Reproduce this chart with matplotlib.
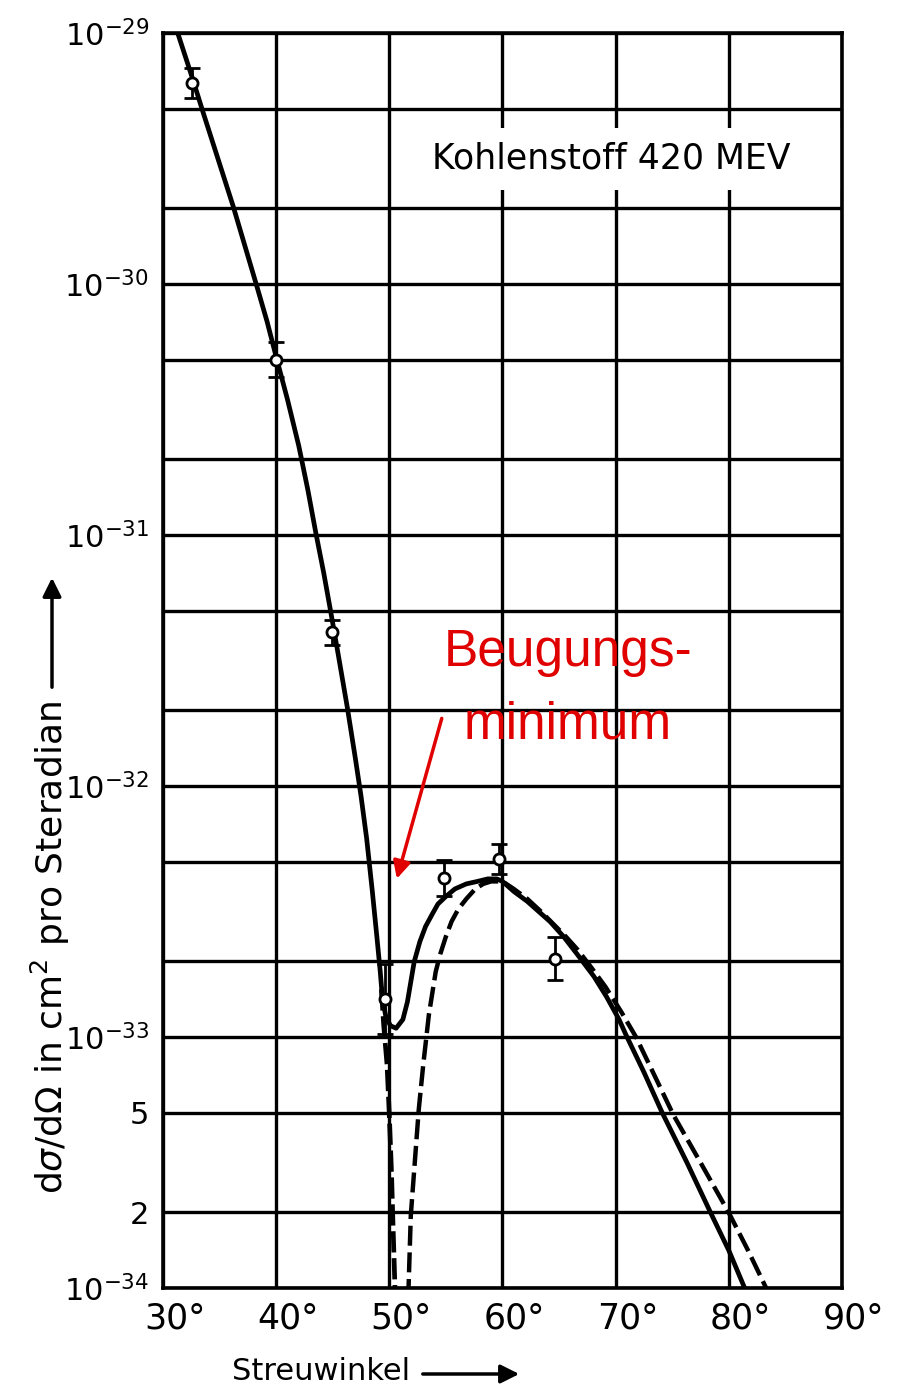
import numpy as np
import matplotlib
matplotlib.use("Agg")
import matplotlib.pyplot as plt
from matplotlib.patches import Rectangle
from matplotlib.transforms import ScaledTranslation

# solid curve (angle in degrees, log10 of cross section)
solid_deg = [31.3, 32.6, 33.5, 36.2, 38.3, 39.2, 40.0, 41.0, 42.0, 42.8, 43.5,
             44.2, 44.8, 45.5, 46.3, 47.0, 47.5, 48.0, 48.5, 48.9, 49.2, 49.4,
             49.7, 50.1, 50.6, 51.2, 51.6, 51.9, 52.2, 52.7, 53.2, 53.8, 54.3,
             55.0, 55.8, 56.8, 57.8, 58.7, 59.5, 60.0, 61.0, 62.2, 63.2, 64.2,
             65.4, 66.6, 68.1, 69.2, 70.3, 70.9, 72.5, 74.1, 76.3, 78.5, 80.0,
             81.4]
solid_log = [-29.00, -29.18, -29.31, -29.69, -30.01, -30.15, -30.29, -30.46,
             -30.645, -30.82, -30.99, -31.15, -31.30, -31.48, -31.69, -31.89,
             -32.04, -32.21, -32.42, -32.60, -32.74, -32.85, -32.92, -32.955,
             -32.965, -32.93, -32.86, -32.78, -32.70, -32.62, -32.56, -32.51,
             -32.47, -32.44, -32.41, -32.39, -32.38, -32.37, -32.37, -32.38,
             -32.42, -32.46, -32.50, -32.54, -32.60, -32.67, -32.76, -32.84,
             -32.93, -32.99, -33.14, -33.30, -33.50, -33.71, -33.85, -34.00]

# dashed curve, left branch below the solid minimum and right branch
dash_left_deg = [49.3, 49.5, 49.8, 50.0, 50.2, 50.3, 50.5, 50.6]
dash_left_log = [-32.81, -32.95, -33.11, -33.31, -33.55, -33.71, -34.00, -34.15]
dash_right_deg = [51.6, 51.7, 51.9, 52.3, 52.6, 53.0, 53.5, 54.1, 54.5, 55.0,
                  55.5, 56.1, 56.8, 57.6, 58.3, 59.0, 60.0, 61.0, 62.2, 63.4,
                  64.5, 65.6, 66.6, 67.8, 69.1, 70.5, 71.8, 73.4, 75.1, 77.5,
                  80.0, 81.7, 83.3]
dash_right_log = [-34.15, -34.00, -33.71, -33.47, -33.29, -33.11, -32.91,
                  -32.74, -32.67, -32.60, -32.54, -32.49, -32.45, -32.41,
                  -32.39, -32.38, -32.38, -32.41, -32.45, -32.50, -32.55,
                  -32.60, -32.65, -32.72, -32.80, -32.90, -33.00, -33.15,
                  -33.31, -33.50, -33.70, -33.85, -34.00]

# measured points with error bars (error in decades)
meas_deg = [32.6, 40.0, 44.9, 49.6, 54.8, 59.7, 64.6]
meas_val = [6.3e-30, 5.0e-31, 4.1e-32, 1.42e-33, 4.3e-33, 5.1e-33, 2.05e-33]
meas_err = [0.06, 0.07, 0.05, 0.14, 0.07, 0.06, 0.085]

xtick_values = [30, 40, 50, 60, 70, 80, 90]
xtick_labels = ['30°', '40°', '50°', '60°', '70°', '80°', '90°']
ytick_values = [1e-34, 2e-34, 5e-34, 1e-33, 2e-33, 5e-33, 1e-32, 2e-32, 5e-32,
                1e-31, 2e-31, 5e-31, 1e-30, 2e-30, 5e-30, 1e-29]
ytick_labels = ['$10^{-34}$', '2', '5', '$10^{-33}$', '', '', '$10^{-32}$', '', '',
                '$10^{-31}$', '', '', '$10^{-30}$', '', '', '$10^{-29}$']

title_text = 'Kohlenstoff 420 MEV'
note_lines = ['Beugungs-', 'minimum']

fig = plt.figure(figsize=(9, 13.92), dpi=100)
ax = fig.add_axes([0.1811, 0.0747, 0.7544, 0.9016])

ax.set_yscale('log')
ax.set_xlim(30, 90)
ax.set_ylim(1e-34, 1e-29)

ax.set_xticks(xtick_values)
ax.set_xticklabels(xtick_labels, fontsize=25)
ax.set_yticks(ytick_values)
ax.set_yticklabels(ytick_labels, fontsize=22)
ax.yaxis.set_minor_locator(matplotlib.ticker.NullLocator())
ax.tick_params(length=0)
ax.tick_params(axis='x', pad=10)
ax.tick_params(axis='y', pad=10)
for lab in ax.get_xticklabels():
    lab.set_transform(lab.get_transform() + ScaledTranslation(0.12, 0, fig.dpi_scale_trans))

ax.grid(True, color='black', linewidth=2.4)
ax.set_axisbelow(True)
for sp in ax.spines.values():
    sp.set_linewidth(2.6)

ax.plot(solid_deg, 10 ** np.array(solid_log), color='black', lw=3.4, zorder=3,
        solid_joinstyle='round')
ax.plot(dash_left_deg, 10 ** np.array(dash_left_log), color='black', lw=3.4,
        ls=(0, (4.5, 1.2)), zorder=3)
ax.plot(dash_right_deg, 10 ** np.array(dash_right_log), color='black', lw=3.2,
        ls=(0, (4.5, 1.5)), zorder=3)

meas_val = np.array(meas_val)
meas_err = np.array(meas_err)
lo = meas_val - meas_val * 10 ** (-meas_err)
hi = meas_val * 10 ** meas_err - meas_val
ax.errorbar(meas_deg, meas_val, yerr=[lo, hi], fmt='o', ms=8, mfc='white',
            mec='black', mew=2, ecolor='black', elinewidth=2, capsize=6,
            capthick=2, zorder=5)

# white label box over the grid
ax.add_patch(Rectangle((0.371, 0.875), 0.629, 0.049, transform=ax.transAxes,
                       facecolor='white', edgecolor='none', zorder=2))
ax.text(0.66, 0.900, title_text, transform=ax.transAxes, ha='center',
        va='center', fontsize=25, zorder=4)

# red annotation
red = '#e00000'
ax.text(65.8, 10 ** -31.52, note_lines[0], color=red, fontsize=37,
        family='Liberation Sans', ha='center', va='baseline', zorder=6)
ax.text(65.8, 10 ** -31.81, note_lines[1], color=red, fontsize=37,
        family='Liberation Sans', ha='center', va='baseline', zorder=6)
ax.annotate('', xy=(50.6, 10 ** -32.38), xytext=(54.7, 10 ** -31.72),
            arrowprops=dict(arrowstyle='-|>', color=red, lw=2.5,
                            mutation_scale=26), zorder=6)

# axis labels with arrows
fig.text(50 / 900, 1 - 948 / 1392, 'd$\\sigma$/d$\\Omega$ in cm$^2$ pro Steradian',
         rotation=90, ha='center', va='center', fontsize=26)
ax.annotate('', xy=(52, 1392 - 575), xytext=(52, 1392 - 690),
            xycoords='figure pixels', textcoords='figure pixels',
            arrowprops=dict(arrowstyle='-|>', color='black', lw=2.5,
                            mutation_scale=28))
fig.text(321 / 900, 1 - 1372 / 1392, 'Streuwinkel', ha='center', va='center',
         fontsize=22)
ax.annotate('', xy=(522, 1392 - 1374), xytext=(420, 1392 - 1374),
            xycoords='figure pixels', textcoords='figure pixels',
            arrowprops=dict(arrowstyle='-|>', color='black', lw=2.5,
                            mutation_scale=28))

fig.savefig('out.png', dpi=100)
